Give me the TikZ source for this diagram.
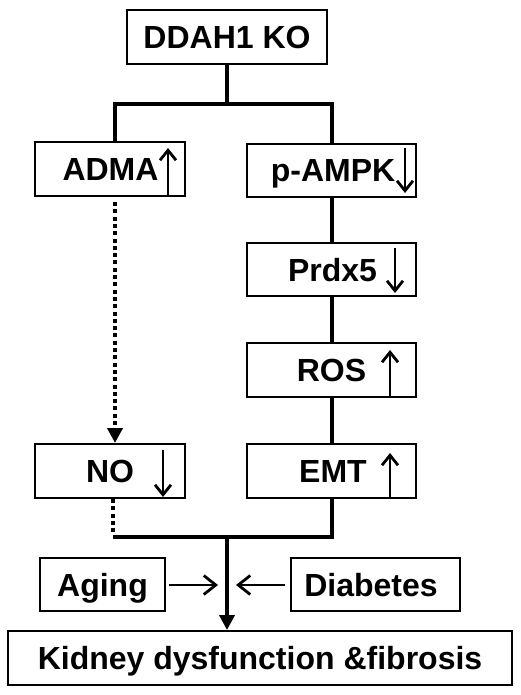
\documentclass[tikz,border=0pt]{standalone}
\usepackage{fontspec}
\setmainfont{Liberation Sans}
\usetikzlibrary{arrows.meta}
\begin{document}
\begin{tikzpicture}[x=1pt,y=-1pt,
  box/.style={draw, line width=2pt, rectangle, inner sep=0pt},
  lbl/.style={font=\bfseries\fontsize{32}{36}\selectfont, inner sep=0pt, text height=23pt, text depth=0pt},
  conn/.style={line width=4pt},
  dotconn/.style={line width=4.5pt, dash pattern=on 4pt off 3.3pt},
  updown/.style={line width=2.8pt, -{Straight Barb[length=10pt,width=16pt]}},
  side/.style={line width=2.8pt, -{Straight Barb[length=12pt,width=19pt]}},
  bigtip/.style={-{Triangle[length=15pt,width=15pt]}},
]
\useasboundingbox (0,0) rectangle (520,695);

% boxes
\node[box, lbl, minimum width=200pt, minimum height=54pt] (ddah) at (227,37) {DDAH1 KO};
\node[box, minimum width=150pt, minimum height=54pt] (adma) at (110,169) {};
\node[box, minimum width=169pt, minimum height=53pt] (pampk) at (331.5,170.5) {};
\node[box, minimum width=169pt, minimum height=53pt] (prdx) at (331.5,269.5) {};
\node[box, minimum width=169pt, minimum height=54pt] (ros) at (331.5,370) {};
\node[box, minimum width=169pt, minimum height=54pt] (emt) at (331.5,471) {};
\node[box, minimum width=150pt, minimum height=54pt] (no) at (110,471) {};
\node[box, lbl, minimum width=125pt, minimum height=53pt] (aging) at (102.5,584.5) {Aging};
\node[box, minimum width=169pt, minimum height=53pt] (diab) at (375.5,584.5) {};
\node[box, lbl, minimum width=504pt, minimum height=54pt] (kidney) at (260,658) {Kidney dysfunction \&fibrosis};

% texts
\node[lbl] (admat) at (110.5,169) {ADMA};
\node[lbl] (pampkt) at (333,170.5) {p-AMPK};
\node[lbl] (prdxt) at (332.5,269.5) {Prdx5};
\node[lbl] (rost) at (331.5,370) {ROS};
\node[lbl] (emtt) at (333,471) {EMT};
\node[lbl] (not) at (110,471) {NO};
\node[lbl] (diabt) at (371,584.5) {Diabetes};

% up / down arrows in boxes
\draw[updown] (168,195) -- (168,148);
\draw[updown] (405,148) -- (405,193);
\draw[updown] (395,248) -- (395,293);
\draw[updown] (390,396) -- (390,350);
\draw[updown] (390,497) -- (390,453);
\draw[updown] (163,450) -- (163,497);

% top connectors
\coordinate (tl) at (115,104);
\coordinate (tr) at (332,104);
\coordinate (tm) at (227,104);
\draw[conn] (ddah.south) -- (tm);
\draw[conn, line join=miter] (tl |- adma.north) -- (tl) -- (tr) -- (tr |- pampk.north);

% right chain
\draw[conn] (pampk.south -| tr) -- (prdx.north -| tr);
\draw[conn] (prdx.south -| tr) -- (ros.north -| tr);
\draw[conn] (ros.south -| tr) -- (emt.north -| tr);

% dotted ADMA -> NO
\coordinate (ds) at (115,202);
\draw[dotconn, bigtip] (ds) -- (tl |- no.north);

% bottom join
\coordinate (bl) at (113,537);
\coordinate (br) at (332,537);
\coordinate (bm) at (227,537);
\draw[dotconn] (bl |- no.south) -- ([yshift=2pt]bl);
\draw[conn] (bl) -- (br);
\draw[conn] (emt.south -| br) -- ([yshift=-2pt]br);
\draw[conn, bigtip] (bm) -- (kidney.north -| bm);

% side arrows
\coordinate (am) at (218,585);
\coordinate (dm) at (236,585);
\draw[side] ([xshift=3pt]aging.east |- am) -- (am);
\draw[side] ([xshift=-5pt]diab.west |- dm) -- (dm);
\end{tikzpicture}
\end{document}
